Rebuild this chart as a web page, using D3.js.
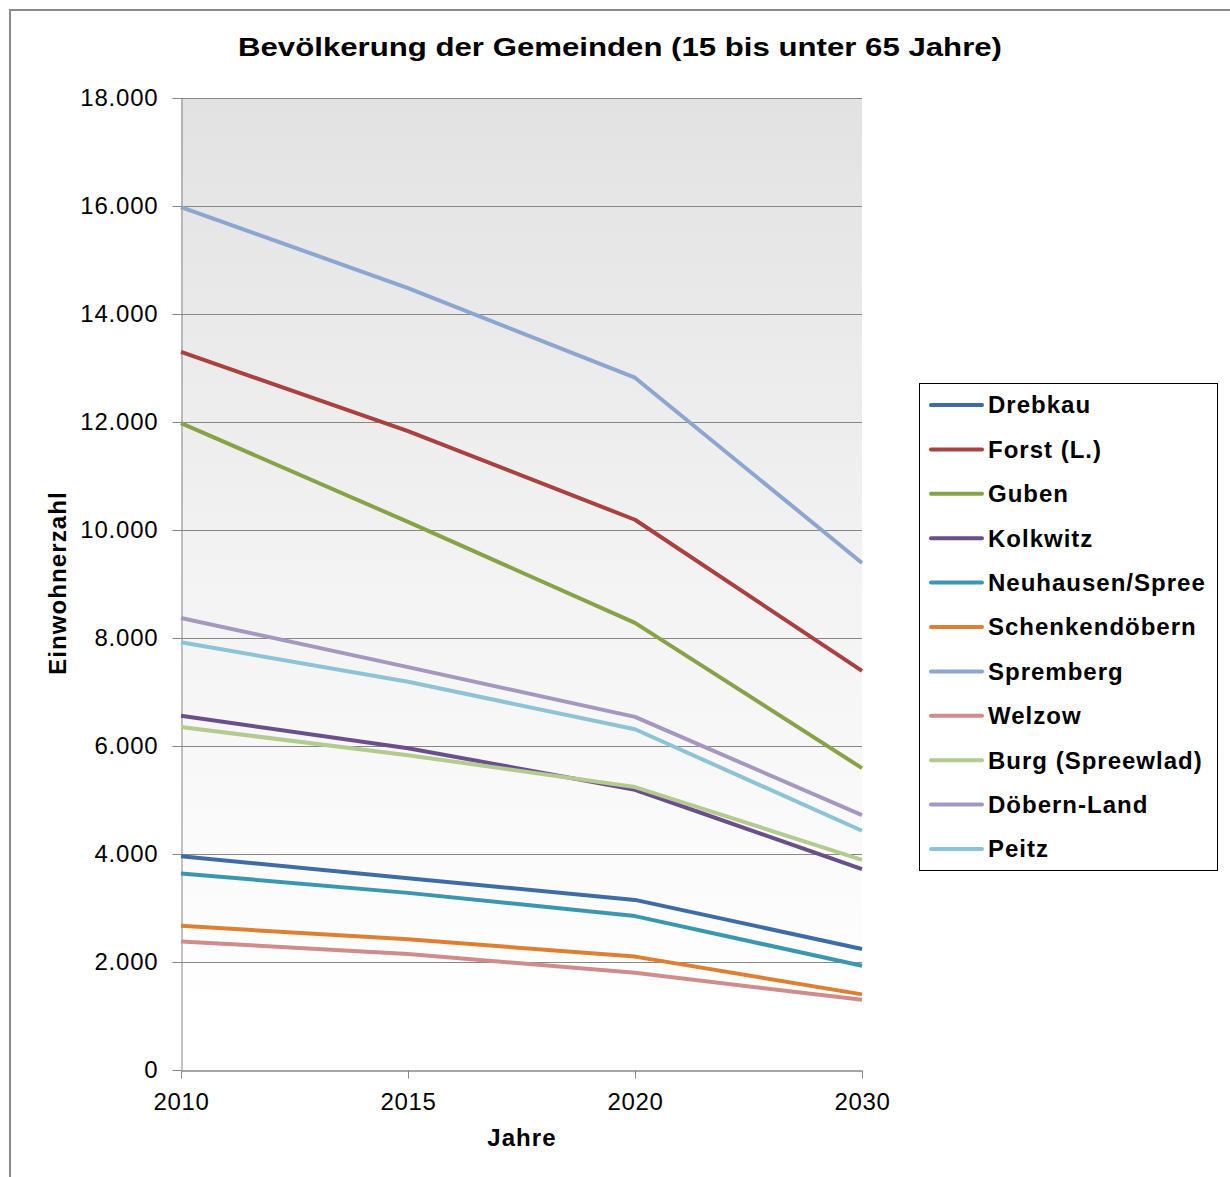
<!DOCTYPE html>
<html>
<head>
<meta charset="utf-8">
<script src="https://cdn.jsdelivr.net/npm/d3@7"></script>
<style>
  html, body { margin: 0; padding: 0; background: #fff; }
  svg { display: block; font-family: "Liberation Sans", Arial, sans-serif; }
</style>
</head>
<body>
<svg id="chart" width="1230" height="1177"></svg>
<script>
// Population aged 15 to under 65, by municipality
const years = ["2010", "2015", "2020", "2030"];
const municipalities = [
  "Drebkau", "Forst (L.)", "Guben", "Kolkwitz", "Neuhausen/Spree",
  "Schenkendöbern", "Spremberg", "Welzow", "Burg (Spreewlad)",
  "Döbern-Land", "Peitz"
];
const drebkau        = [3960, 3550, 3150, 2240];
const forst          = [13300, 11830, 10190, 7390];
const guben          = [11980, 10150, 8280, 5590];
const kolkwitz       = [6560, 5960, 5190, 3720];
const neuhausen      = [3640, 3280, 2850, 1930];
const schenkendoebern = [2670, 2420, 2100, 1400];
const spremberg      = [15980, 14480, 12820, 9390];
const welzow         = [2380, 2150, 1800, 1300];
const burg           = [6350, 5830, 5240, 3890];
const doebernLand    = [8370, 7460, 6540, 4720];
const peitz          = [7920, 7190, 6310, 4430];
const seriesValues = [drebkau, forst, guben, kolkwitz, neuhausen,
  schenkendoebern, spremberg, welzow, burg, doebernLand, peitz];
const seriesColors = ["#3e6ca7", "#a9413e", "#86a347", "#6a4f8b", "#3a97b0",
  "#df7f32", "#8ba6d0", "#d08c8a", "#b3ca90", "#a597c0", "#8cc3d7"];
const yTicks = [0, 2000, 4000, 6000, 8000, 10000, 12000, 14000, 16000, 18000];

const svg = d3.select("#chart");
const plot = { left: 181, right: 862, top: 98, bottom: 1070 };

const de = d3.formatLocale({ decimal: ",", thousands: ".", grouping: [3], currency: ["", " €"] });
const fmt = de.format(",");

const x = d3.scalePoint().domain(years).range([plot.left, plot.right]);
const y = d3.scaleLinear().domain([0, 18000]).range([plot.bottom, plot.top]);

// outer chart frame
svg.append("rect")
  .attr("x", 10).attr("y", 10).attr("width", 1240).attr("height", 1190)
  .attr("fill", "none").attr("stroke", "#8a8a8a").attr("stroke-width", 2);

// plot area background gradient
const defs = svg.append("defs");
const grad = defs.append("linearGradient").attr("id", "bg")
  .attr("x1", 0).attr("y1", 0).attr("x2", 0).attr("y2", 1);
grad.append("stop").attr("offset", "0%").attr("stop-color", "#e2e2e2");
grad.append("stop").attr("offset", "50%").attr("stop-color", "#f3f3f3");
grad.append("stop").attr("offset", "94%").attr("stop-color", "#ffffff");
svg.append("rect")
  .attr("x", plot.left).attr("y", plot.top)
  .attr("width", plot.right - plot.left).attr("height", plot.bottom - plot.top)
  .attr("fill", "url(#bg)");

// horizontal gridlines
svg.append("g")
  .selectAll("line")
  .data(yTicks.filter(d => d > 0))
  .join("line")
  .attr("x1", plot.left).attr("x2", plot.right)
  .attr("y1", d => Math.round(y(d)) + 0.5).attr("y2", d => Math.round(y(d)) + 0.5)
  .attr("stroke", "#878787").attr("stroke-width", 1);

// y axis
const yAxis = svg.append("g")
  .attr("transform", `translate(${plot.left + 0.5},0)`)
  .call(d3.axisLeft(y).tickValues(yTicks).tickFormat(fmt).tickSize(9).tickSizeOuter(0).tickPadding(14));
yAxis.select(".domain").attr("stroke", "#878787");
yAxis.selectAll(".tick line").attr("stroke", "#878787");
yAxis.selectAll(".tick text")
  .attr("font-size", 24).attr("fill", "#000").attr("font-family", "Liberation Sans, Arial, sans-serif")
  .attr("letter-spacing", 0.8);

// x axis
const xAxis = svg.append("g")
  .attr("transform", `translate(0,${plot.bottom + 0.5})`)
  .call(d3.axisBottom(x).tickSize(8).tickSizeOuter(0).tickPadding(14));
xAxis.select(".domain").attr("stroke", "#878787").attr("stroke-width", 1.5);
xAxis.selectAll(".tick line").attr("stroke", "#878787");
xAxis.selectAll(".tick text")
  .attr("font-size", 24).attr("fill", "#000").attr("font-family", "Liberation Sans, Arial, sans-serif")
  .attr("letter-spacing", 0.6);

// series lines
const line = d3.line().x((d, i) => x(years[i])).y(d => y(d));
svg.append("g")
  .selectAll("path")
  .data(seriesValues)
  .join("path")
  .attr("d", line)
  .attr("fill", "none")
  .attr("stroke", (d, i) => seriesColors[i])
  .attr("stroke-width", 4)
  .attr("stroke-linejoin", "round")
  .attr("stroke-linecap", "butt");

// title
svg.append("text")
  .attr("x", 620).attr("y", 56)
  .attr("text-anchor", "middle")
  .attr("font-size", 25).attr("font-weight", "bold")
  .attr("textLength", 764).attr("lengthAdjust", "spacingAndGlyphs")
  .text("Bevölkerung der Gemeinden (15 bis unter 65 Jahre)");

// axis titles
svg.append("text")
  .attr("transform", "translate(66,583) rotate(-90)")
  .attr("text-anchor", "middle")
  .attr("font-size", 24).attr("font-weight", "bold")
  .attr("letter-spacing", 1.1)
  .text("Einwohnerzahl");
svg.append("text")
  .attr("x", 522).attr("y", 1146)
  .attr("text-anchor", "middle")
  .attr("font-size", 24).attr("font-weight", "bold")
  .attr("letter-spacing", 1.1)
  .text("Jahre");

// legend
const legend = svg.append("g");
legend.append("rect")
  .attr("x", 919.5).attr("y", 383.5).attr("width", 298).attr("height", 487)
  .attr("fill", "#fff").attr("stroke", "#000").attr("stroke-width", 1);
const items = legend.selectAll("g.item")
  .data(municipalities)
  .join("g").attr("class", "item")
  .attr("transform", (d, i) => `translate(0,${405 + i * 44.4})`);
items.append("line")
  .attr("x1", 931).attr("x2", 982).attr("y1", 0).attr("y2", 0)
  .attr("stroke", (d, i) => seriesColors[i])
  .attr("stroke-width", 4).attr("stroke-linecap", "round");
items.append("text")
  .attr("x", 988).attr("y", 0).attr("dy", "0.35em")
  .attr("font-size", 24).attr("font-weight", "bold")
  .attr("letter-spacing", 1)
  .text(d => d);
</script>
</body>
</html>
